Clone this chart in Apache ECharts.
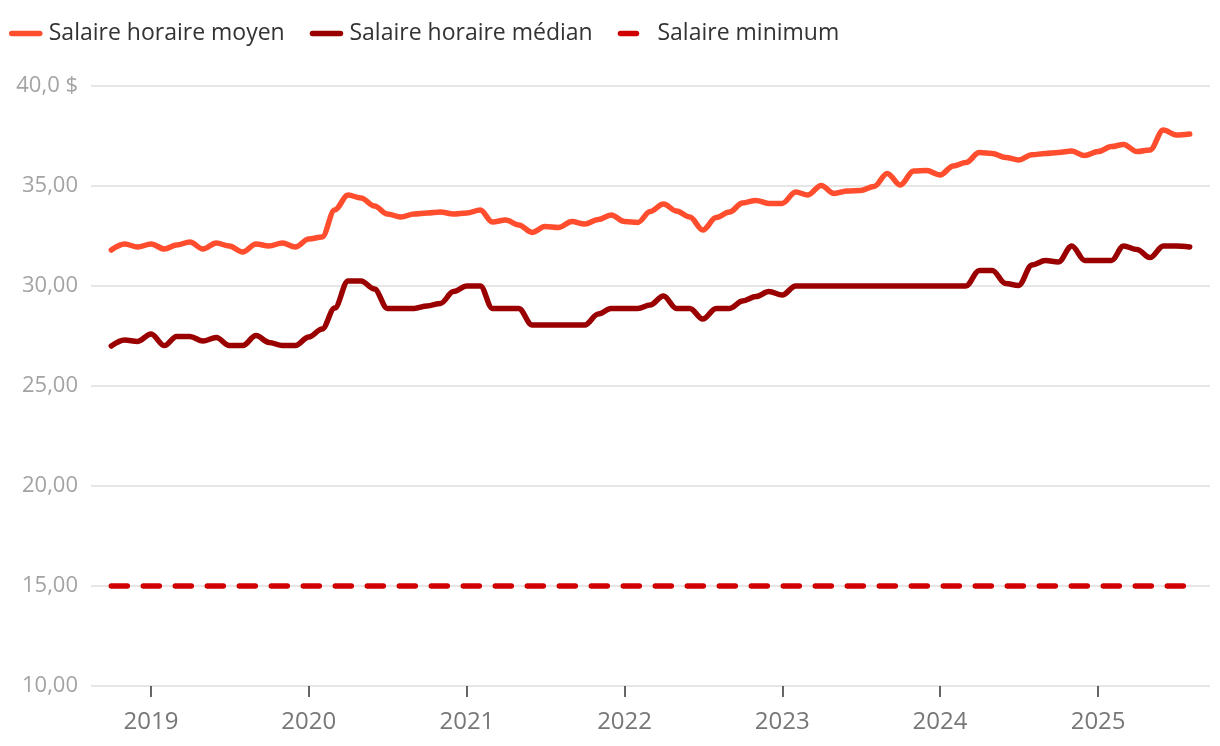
<!DOCTYPE html>
<html>
<head>
<meta charset="utf-8">
<script src="https://cdn.jsdelivr.net/npm/echarts@6/dist/echarts.min.js"></script>
<style>
html,body{margin:0;padding:0;background:#fff;}
#chart{width:1220px;height:746px;}
</style>
</head>
<body>
<div id="chart"></div>
<script>
// Monthly dates, Oct 2018 - Aug 2025
const months = [
 '2018-10','2018-11','2018-12',
 '2019-01','2019-02','2019-03','2019-04','2019-05','2019-06','2019-07','2019-08','2019-09','2019-10','2019-11','2019-12',
 '2020-01','2020-02','2020-03','2020-04','2020-05','2020-06','2020-07','2020-08','2020-09','2020-10','2020-11','2020-12',
 '2021-01','2021-02','2021-03','2021-04','2021-05','2021-06','2021-07','2021-08','2021-09','2021-10','2021-11','2021-12',
 '2022-01','2022-02','2022-03','2022-04','2022-05','2022-06','2022-07','2022-08','2022-09','2022-10','2022-11','2022-12',
 '2023-01','2023-02','2023-03','2023-04','2023-05','2023-06','2023-07','2023-08','2023-09','2023-10','2023-11','2023-12',
 '2024-01','2024-02','2024-03','2024-04','2024-05','2024-06','2024-07','2024-08','2024-09','2024-10','2024-11','2024-12',
 '2025-01','2025-02','2025-03','2025-04','2025-05','2025-06','2025-07','2025-08'
];
const salaireMoyen = [
 31.8,32.1,31.95,
 32.1,31.85,32.05,32.2,31.85,32.15,32.0,31.7,32.1,32.0,32.15,31.95,
 32.35,32.45,33.8,34.55,34.4,34.0,33.6,33.45,33.6,33.65,33.7,33.6,
 33.65,33.8,33.2,33.3,33.05,32.68,32.97,32.92,33.22,33.1,33.33,33.55,
 33.22,33.18,33.72,34.1,33.75,33.45,32.8,33.42,33.7,34.15,34.28,34.13,
 34.13,34.7,34.55,35.03,34.63,34.75,34.77,34.97,35.63,35.05,35.75,35.77,
 35.55,36.0,36.17,36.67,36.63,36.43,36.3,36.56,36.63,36.68,36.75,36.52,
 36.72,36.97,37.08,36.72,36.8,37.8,37.55,37.6
];
const salaireMedian = [
 27.0,27.3,27.23,
 27.6,27.02,27.48,27.47,27.25,27.42,27.02,27.02,27.52,27.18,27.02,27.02,
 27.45,27.85,28.9,30.25,30.25,29.85,28.88,28.88,28.88,29.0,29.13,29.72,
 30.0,30.0,28.88,28.88,28.88,28.05,28.05,28.05,28.05,28.05,28.6,28.88,
 28.88,28.88,29.05,29.5,28.88,28.88,28.35,28.88,28.88,29.25,29.47,29.72,
 29.55,30.0,30.0,30.0,30.0,30.0,30.0,30.0,30.0,30.0,30.0,30.0,
 30.0,30.0,30.0,30.78,30.78,30.12,30.03,31.05,31.27,31.2,32.0,31.28,
 31.28,31.28,32.0,31.83,31.42,32.0,32.0,31.95
];
const minimumDates = ['2018-10','2025-08'];
const salaireMinimum = [15, 15];
const yearTicks = ['2019-01','2020-01','2021-01','2022-01','2023-01','2024-01','2025-01'];
const axisRange = ['2018-08-15', '2025-09-17'];
const seriesNames = ['Salaire horaire moyen','Salaire horaire médian','Salaire minimum'];

const ts = s => Date.parse((s.length === 7 ? s + '-01' : s) + 'T00:00:00Z');
const pair = (d, v) => d.map((x, i) => [ts(x), v[i]]);
const tickValues = yearTicks.map(ts);
const FONT = '"Open Sans", sans-serif';

const chart = echarts.init(document.getElementById('chart'), null, {renderer:'canvas'});
chart.setOption({
  backgroundColor: '#ffffff',
  animation: false,
  legend: {
    left: 4, top: 17,
    itemWidth: 28, itemHeight: 12, itemGap: 25,
    itemStyle: {opacity: 0},
    lineStyle: {width: 5.5},
    textStyle: {fontFamily: FONT, fontSize: 23, color: '#333333', padding: [0,0,0,4]},
    data: seriesNames
  },
  grid: {left: 91, right: 10, top: 86, bottom: 60, containLabel: false},
  xAxis: {
    type: 'value',
    min: ts(axisRange[0]), max: ts(axisRange[1]),
    axisLine: {show: false},
    axisTick: {show: true, length: 11, lineStyle: {color: '#333333', width: 1.5}, customValues: tickValues},
    axisLabel: {
      customValues: tickValues,
      formatter: v => String(new Date(v).getUTCFullYear()),
      color: '#777777', fontFamily: FONT, fontSize: 24, margin: 24
    },
    splitLine: {show: false}
  },
  yAxis: {
    type: 'value', min: 10, max: 40, interval: 5,
    axisLine: {show: false}, axisTick: {show: false},
    axisLabel: {
      formatter: v => v === 40 ? '40,0 $' : v.toFixed(2).replace('.', ','),
      color: '#a3a3a3', fontFamily: FONT, fontSize: 22, margin: 13
    },
    splitLine: {lineStyle: {color: '#e6e6e6', width: 2}}
  },
  series: [
    {name: seriesNames[0], type: 'line', data: pair(months, salaireMoyen), showSymbol: false, symbol: 'none',
     smooth: 0.35, smoothMonotone: 'x', color: '#ff4d2d',
     lineStyle: {color: '#ff4d2d', width: 5.5, cap: 'round', join: 'round'}},
    {name: seriesNames[1], type: 'line', data: pair(months, salaireMedian), showSymbol: false, symbol: 'none',
     smooth: 0.35, smoothMonotone: 'x', color: '#9b0000',
     lineStyle: {color: '#9b0000', width: 5.5, cap: 'round', join: 'round'}},
    {name: seriesNames[2], type: 'line', data: pair(minimumDates, salaireMinimum), showSymbol: false, symbol: 'none',
     color: '#d10000',
     lineStyle: {color: '#d10000', width: 5.5, type: [16, 16], cap: 'round'}}
  ]
});
</script>
</body>
</html>
